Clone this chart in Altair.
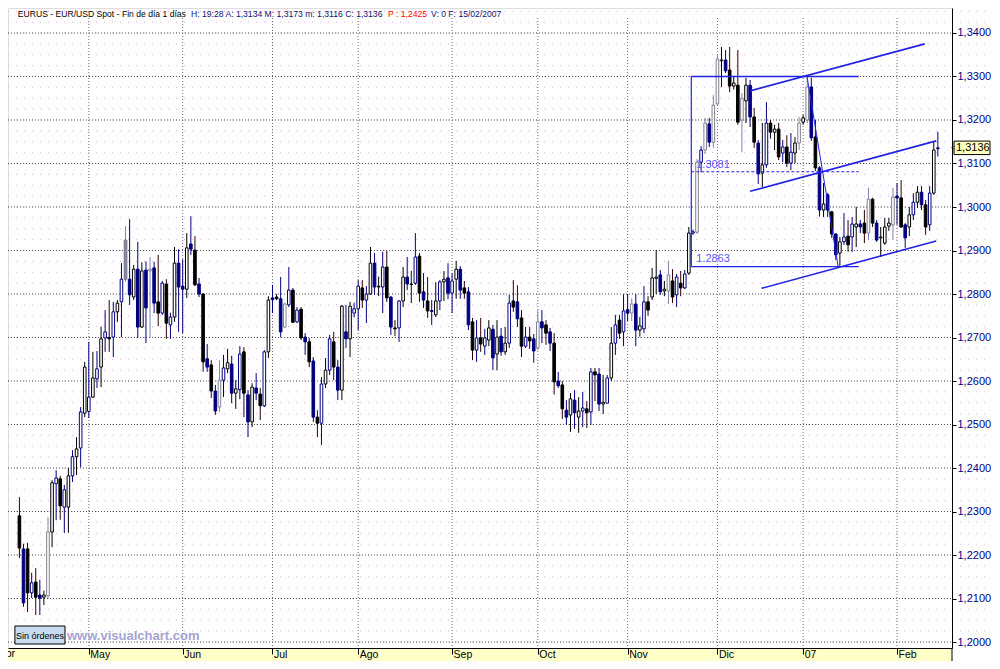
import altair as alt
import pandas as pd

# ---------------- data (bar number k = 1 .. 226, daily EUR/USD) ----------------
OPEN = [1.2290,1.2214,1.2214,1.2113,1.2138,1.2108,1.2103,1.2106,1.2253,1.2364,
        1.2375,1.2310,1.2310,1.2382,1.2426,1.2446,1.2526,1.2530,1.2563,1.2605,
        1.2632,1.2699,1.2700,1.2701,1.2759,1.2782,1.2834,1.2834,1.2793,1.2857,
        1.2724,1.2855,1.2853,1.2860,1.2782,1.2756,1.2823,1.2729,1.2747,1.2871,
        1.2818,1.2811,1.2915,1.2901,1.2823,1.2800,1.2651,1.2637,1.2577,1.2540,
        1.2602,1.2628,1.2639,1.2572,1.2580,1.2667,1.2568,1.2506,1.2584,1.2570,
        1.2543,1.2667,1.2791,1.2793,1.2789,1.2724,1.2775,1.2809,1.2736,1.2765,
        1.2701,1.2690,1.2646,1.2517,1.2503,1.2593,1.2625,1.2690,1.2632,1.2579,
        1.2713,1.2697,1.2756,1.2766,1.2814,1.2786,1.2800,1.2871,1.2816,1.2816,
        1.2862,1.2793,1.2722,1.2722,1.2784,1.2839,1.2823,1.2825,1.2887,1.2805,
        1.2784,1.2762,1.2752,1.2784,1.2828,1.2837,1.2802,1.2834,1.2857,1.2814,
        1.2805,1.2736,1.2671,1.2699,1.2680,1.2694,1.2719,1.2662,1.2703,1.2667,
        1.2687,1.2784,1.2782,1.2745,1.2680,1.2701,1.2697,1.2676,1.2736,1.2729,
        1.2713,1.2687,1.2600,1.2591,1.2533,1.2522,1.2556,1.2517,1.2531,1.2536,
        1.2529,1.2621,1.2616,1.2547,1.2549,1.2607,1.2687,1.2740,1.2713,1.2764,
        1.2756,1.2777,1.2717,1.2720,1.2782,1.2793,1.2836,1.2844,1.2807,1.2807,
        1.2830,1.2798,1.2825,1.2814,1.2848,1.2940,1.2942,1.3103,1.3131,1.3191,
        1.3149,1.3237,1.3336,1.3338,1.3315,1.3278,1.3280,1.3200,1.3244,1.3280,
        1.3207,1.3147,1.3078,1.3097,1.3193,1.3172,1.3179,1.3124,1.3138,1.3101,
        1.3124,1.3147,1.3195,1.3200,1.3276,1.3161,1.3090,1.2993,1.3028,1.2989,
        1.2938,1.2894,1.2920,1.2933,1.2931,1.2954,1.2961,1.2963,1.2940,1.3018,
        1.2963,1.2929,1.2917,1.2956,1.2959,1.3025,1.3021,1.2959,1.2954,1.2982,
        1.3011,1.3034,1.3005,1.2959,1.3032,1.3134]
HIGH = [1.2333,1.2226,1.2228,1.2159,1.2170,1.2143,1.2118,1.2287,1.2372,1.2395,
        1.2382,1.2361,1.2400,1.2441,1.2471,1.2540,1.2644,1.2690,1.2667,1.2669,
        1.2725,1.2763,1.2786,1.2782,1.2786,1.2871,1.2956,1.2972,1.2867,1.2920,
        1.2873,1.2875,1.2885,1.2874,1.2890,1.2830,1.2834,1.2757,1.2908,1.2903,
        1.2880,1.2940,1.2979,1.2933,1.2837,1.2802,1.2685,1.2648,1.2591,1.2648,
        1.2660,1.2674,1.2658,1.2602,1.2680,1.2678,1.2579,1.2595,1.2618,1.2584,
        1.2671,1.2795,1.2821,1.2800,1.2839,1.2780,1.2862,1.2814,1.2770,1.2770,
        1.2710,1.2699,1.2655,1.2533,1.2609,1.2653,1.2706,1.2713,1.2648,1.2775,
        1.2775,1.2782,1.2780,1.2832,1.2832,1.2818,1.2908,1.2894,1.2840,1.2897,
        1.2899,1.2795,1.2740,1.2786,1.2862,1.2885,1.2853,1.2940,1.2894,1.2848,
        1.2839,1.2786,1.2827,1.2832,1.2853,1.2871,1.2848,1.2876,1.2864,1.2830,
        1.2816,1.2745,1.2740,1.2745,1.2720,1.2740,1.2729,1.2740,1.2722,1.2724,
        1.2798,1.2832,1.2820,1.2763,1.2724,1.2724,1.2708,1.2763,1.2763,1.2740,
        1.2722,1.2710,1.2621,1.2600,1.2556,1.2572,1.2579,1.2563,1.2575,1.2554,
        1.2630,1.2630,1.2630,1.2614,1.2614,1.2724,1.2752,1.2752,1.2799,1.2800,
        1.2790,1.2800,1.2747,1.2818,1.2795,1.2860,1.2901,1.2855,1.2830,1.2876,
        1.2857,1.2846,1.2853,1.2855,1.2954,1.2948,1.3110,1.3140,1.3205,1.3205,
        1.3257,1.3349,1.3368,1.3361,1.3368,1.3300,1.3361,1.3262,1.3297,1.3292,
        1.3228,1.3154,1.3193,1.3241,1.3200,1.3189,1.3193,1.3154,1.3165,1.3170,
        1.3161,1.3207,1.3212,1.3303,1.3297,1.3200,1.3094,1.3055,1.3032,1.2991,
        1.2940,1.2931,1.2986,1.2970,1.2977,1.3000,1.2970,1.2993,1.3044,1.3021,
        1.2970,1.2954,1.2975,1.2975,1.3044,1.3055,1.3062,1.2963,1.3000,1.3032,
        1.3048,1.3048,1.3016,1.3048,1.3149,1.3173]
LOW = [1.2193,1.2081,1.2069,1.2101,1.2062,1.2062,1.2085,1.2101,1.2218,1.2280,
       1.2281,1.2251,1.2251,1.2368,1.2384,1.2402,1.2517,1.2515,1.2561,1.2584,
       1.2586,1.2667,1.2667,1.2655,1.2736,1.2701,1.2828,1.2775,1.2786,1.2699,
       1.2722,1.2687,1.2699,1.2756,1.2726,1.2752,1.2697,1.2697,1.2736,1.2713,
       1.2710,1.2791,1.2890,1.2818,1.2793,1.2621,1.2621,1.2561,1.2522,1.2529,
       1.2563,1.2618,1.2549,1.2536,1.2558,1.2517,1.2471,1.2494,1.2556,1.2510,
       1.2540,1.2653,1.2756,1.2786,1.2701,1.2722,1.2770,1.2733,1.2733,1.2694,
       1.2660,1.2632,1.2506,1.2471,1.2453,1.2584,1.2614,1.2602,1.2556,1.2556,
       1.2676,1.2655,1.2746,1.2717,1.2768,1.2733,1.2798,1.2798,1.2795,1.2756,
       1.2782,1.2706,1.2703,1.2690,1.2770,1.2809,1.2779,1.2821,1.2782,1.2768,
       1.2745,1.2729,1.2747,1.2763,1.2784,1.2788,1.2756,1.2789,1.2789,1.2789,
       1.2717,1.2648,1.2644,1.2667,1.2660,1.2680,1.2625,1.2625,1.2658,1.2660,
       1.2676,1.2759,1.2724,1.2655,1.2676,1.2674,1.2642,1.2671,1.2687,1.2683,
       1.2669,1.2569,1.2584,1.2513,1.2499,1.2483,1.2490,1.2481,1.2494,1.2492,
       1.2499,1.2554,1.2531,1.2524,1.2549,1.2600,1.2660,1.2697,1.2680,1.2738,
       1.2738,1.2680,1.2702,1.2710,1.2750,1.2786,1.2800,1.2798,1.2795,1.2777,
       1.2779,1.2770,1.2795,1.2811,1.2844,1.2936,1.2938,1.3080,1.3122,1.3138,
       1.3136,1.3234,1.3276,1.3308,1.3264,1.3270,1.3189,1.3126,1.3193,1.3184,
       1.3136,1.3053,1.3046,1.3090,1.3157,1.3131,1.3108,1.3103,1.3092,1.3085,
       1.3101,1.3131,1.3189,1.3193,1.3152,1.3083,1.2978,1.2977,1.2977,1.2929,
       1.2878,1.2862,1.2913,1.2897,1.2897,1.2908,1.2940,1.2917,1.2924,1.2954,
       1.2920,1.2885,1.2913,1.2945,1.2924,1.2959,1.2952,1.2906,1.2933,1.2970,
       1.2998,1.2993,1.2936,1.2945,1.3028,1.3116]
CLOSE = [1.2216,1.2090,1.2113,1.2136,1.2103,1.2101,1.2108,1.2253,1.2366,1.2377,
         1.2313,1.2350,1.2382,1.2426,1.2444,1.2529,1.2632,1.2563,1.2607,1.2628,
         1.2697,1.2713,1.2697,1.2759,1.2779,1.2834,1.2924,1.2798,1.2857,1.2724,
         1.2853,1.2768,1.2857,1.2779,1.2756,1.2825,1.2733,1.2747,1.2871,1.2816,
         1.2811,1.2906,1.2903,1.2821,1.2800,1.2644,1.2632,1.2577,1.2531,1.2602,
         1.2630,1.2642,1.2572,1.2582,1.2662,1.2572,1.2506,1.2586,1.2572,1.2543,
         1.2667,1.2786,1.2787,1.2789,1.2713,1.2777,1.2809,1.2735,1.2763,1.2699,
         1.2690,1.2644,1.2517,1.2503,1.2593,1.2625,1.2697,1.2632,1.2579,1.2772,
         1.2697,1.2772,1.2766,1.2818,1.2786,1.2800,1.2871,1.2816,1.2818,1.2862,
         1.2791,1.2724,1.2720,1.2784,1.2839,1.2823,1.2822,1.2885,1.2802,1.2786,
         1.2761,1.2760,1.2784,1.2828,1.2834,1.2802,1.2830,1.2857,1.2809,1.2802,
         1.2729,1.2671,1.2699,1.2685,1.2699,1.2722,1.2653,1.2701,1.2667,1.2687,
         1.2779,1.2770,1.2743,1.2680,1.2701,1.2692,1.2669,1.2736,1.2722,1.2710,
         1.2687,1.2598,1.2589,1.2536,1.2517,1.2559,1.2527,1.2531,1.2538,1.2527,
         1.2621,1.2614,1.2547,1.2551,1.2607,1.2687,1.2729,1.2710,1.2761,1.2756,
         1.2777,1.2717,1.2727,1.2782,1.2763,1.2837,1.2839,1.2805,1.2811,1.2844,
         1.2793,1.2839,1.2814,1.2846,1.2940,1.2943,1.3103,1.3131,1.3193,1.3149,
         1.3234,1.3340,1.3338,1.3313,1.3278,1.3285,1.3195,1.3250,1.3280,1.3207,
         1.3149,1.3076,1.3097,1.3193,1.3172,1.3179,1.3115,1.3138,1.3101,1.3126,
         1.3147,1.3193,1.3205,1.3276,1.3159,1.3090,1.2993,1.3007,1.2993,1.2938,
         1.2890,1.2920,1.2931,1.2913,1.2961,1.2961,1.2954,1.2940,1.3018,1.2963,
         1.2924,1.2931,1.2954,1.2963,1.3023,1.3021,1.2954,1.2929,1.2982,1.3011,
         1.3034,1.3005,1.2954,1.3032,1.3131,1.3136]
# candle drawing style code per bar
STYLE = list("BNBnBNwgwn" "Bnwnwnwnwn" "wnBnwnGNwN" "wNgNBnBnwN" "NwNBNBNBNg"
             "nwNwnBNwNB" "nwNBNgnBnB" "NBNBnwnBNw" "NwnnBnwNwn" "BNBnwNBnBN"
             "BNwnwNnwNB" "NBnBnwNwNw" "nBNBnBNgNB" "NBNBNwNwnB" "nBNwnwnBnN"
             "gNwnBwwNwg" "BnBnwngngN" "ggwNBwBgwN" "BNwnBwBnBn" "wgwgNBNwNB"
             "NwnBnwNBgB" "NwwwgNBNwn" "wNBnwN")

MONTH_K = [18, 41, 63, 84, 107, 128, 150, 172, 193, 216]
MONTH_LABELS = ["May", "Jun", "Jul", "Ago", "Sep", "Oct", "Nov", "Dic", "07", "Feb"]
PRICE_TICKS = [1.20, 1.21, 1.22, 1.23, 1.24, 1.25, 1.26, 1.27,
               1.28, 1.29, 1.30, 1.31, 1.32, 1.33, 1.34]

# drawing tools (box, levels, regression channel, swing line)
BOX_K = [165.6, 206.6]
BOX_TOP = 1.3300
BOX_BOTTOM = 1.2863
BOX_MID = 1.3081
LEVEL_TEXT = ["1.3081", "1.2863"]
LEVEL_TEXT_K = [166.8, 166.8]
LEVEL_TEXT_P = [1.3097, 1.2880]
CHANNEL_NAME = ["sup", "sup", "med", "med", "inf", "inf"]
CHANNEL_K = [180.0, 222.8, 180.0, 225.6, 182.8, 225.6]
CHANNEL_P = [1.3267, 1.3375, 1.3036, 1.3152, 1.2813, 1.2922]
SWING_K = [193.9, 201.6]
SWING_P = [1.3303, 1.2862]

HEADER_TEXT = ["EURUS - EUR/USD Spot - Fin de día 1 días",
               "H: 19:28 A: 1,3134 M: 1,3173 m: 1,3116 C: 1,3136",
               "P : 1,2425",
               "V: 0 F: 15/02/2007"]
HEADER_COLOR = ["#000000", "#101070", "#ff0000", "#101070"]
HEADER_X = [9.8, 183.0, 380.0, 423.0]

# ---------------- layout ----------------
W, H = 944, 640
XDOM = [-0.571, 228.24]
YDOM = [1.198621, 1.345747]
FONT = "Liberation Sans"
BLUE = "#2222e6"

FILL = {"w": "#ffffff", "n": "#ffffff", "g": "#ffffff", "G": "#8a8aa0", "B": "#000000", "N": "#000080"}
EDGE = {"w": "#000000", "n": "#000080", "g": "#808090", "G": "#707088", "B": "#000000", "N": "#000080"}
WICK = {"w": "#000000", "n": "#000080", "g": "#8080b0", "G": "#8080b0", "B": "#300000", "N": "#000080"}

bars = pd.DataFrame({"k": list(range(1, len(OPEN) + 1)), "o": OPEN, "h": HIGH,
                     "l": LOW, "c": CLOSE, "s": STYLE[:len(OPEN)]})
bars["top"] = bars[["o", "c"]].max(axis=1)
bars["bot"] = bars[["o", "c"]].min(axis=1)
bars["fill"] = bars["s"].map(FILL)
bars["edge"] = bars["s"].map(EDGE)
bars["wick"] = bars["s"].map(WICK)

xs = alt.Scale(domain=XDOM, nice=False, zero=False)
ys = alt.Scale(domain=YDOM, nice=False, zero=False)

label_expr = "[" + ",".join("'%s'" % m for m in MONTH_LABELS) + "][indexof([" + \
    ",".join(str(k) for k in MONTH_K) + "], datum.value)]"

XA = alt.Axis(values=MONTH_K, labelExpr=label_expr, title=None, grid=False,
              orient="bottom", tickSize=6, tickColor="#000000", domainColor="#000000",
              labelAlign="left", labelBaseline="top", labelPadding=-5, labelOffset=1,
              labelFontSize=10.5, labelFont=FONT, labelColor="#000000",
              labelFlush=False, labelOverlap=False, zindex=2)
YA = alt.Axis(values=PRICE_TICKS, title=None, grid=False, orient="right",
              labelExpr="replace(format(datum.value, '.4f'), '.', ',')",
              tickSize=4, tickColor="#000000", domainColor="#000000",
              labelPadding=1, labelFontSize=11, labelFont=FONT, labelColor="#000080",
              labelOverlap=False, labelFlush=False, zindex=2)


def X(f):
    return alt.X(f, scale=xs, axis=XA)


def Y(f):
    return alt.Y(f, scale=ys, axis=YA)


# background pink dot rows
dots = pd.DataFrame({"p": [1.2000 + 0.0025 * i for i in range(59)]})
dot_layer = alt.Chart(dots).mark_rule(color="#f2a2f2", strokeDash=[1, 7], strokeWidth=1).encode(
    y=Y("p:Q"), x=alt.value(0), x2=alt.value(W + 40))

hgrid = alt.Chart(pd.DataFrame({"p": PRICE_TICKS})).mark_rule(
    color="#505050", strokeDash=[1, 2], strokeWidth=1).encode(
    y=Y("p:Q"), x=alt.value(0), x2=alt.value(W))

vgrid = alt.Chart(pd.DataFrame({"k": MONTH_K})).mark_rule(
    color="#707070", strokeDash=[1, 2], strokeWidth=1).encode(
    x=X("k:Q"), y=alt.value(10), y2=alt.value(H))

wicks = alt.Chart(bars).mark_rule(strokeWidth=1).encode(
    x=X("k:Q"), y=Y("l:Q"), y2="h:Q",
    color=alt.Color("wick:N", scale=None))

bodies = alt.Chart(bars).mark_bar(width=2.6, strokeWidth=1).encode(
    x=X("k:Q"), y=Y("bot:Q"), y2="top:Q",
    fill=alt.Fill("fill:N", scale=None),
    stroke=alt.Stroke("edge:N", scale=None))

box_h = alt.Chart(pd.DataFrame({"k1": [BOX_K[0]] * 2, "k2": [BOX_K[1]] * 2,
                                "p": [BOX_TOP, BOX_BOTTOM]})).mark_rule(
    color=BLUE, strokeWidth=1.4).encode(x=X("k1:Q"), x2="k2:Q", y=Y("p:Q"))
box_v = alt.Chart(pd.DataFrame({"k": [BOX_K[0]], "p1": [BOX_BOTTOM], "p2": [BOX_TOP]})).mark_rule(
    color=BLUE, strokeWidth=1.2).encode(x=X("k:Q"), y=Y("p1:Q"), y2="p2:Q")
box_mid = alt.Chart(pd.DataFrame({"k1": [BOX_K[0]], "k2": [BOX_K[1]], "p": [BOX_MID]})).mark_rule(
    color=BLUE, strokeWidth=1.2, strokeDash=[3, 2]).encode(x=X("k1:Q"), x2="k2:Q", y=Y("p:Q"))

chan = alt.Chart(pd.DataFrame({"n": CHANNEL_NAME, "k": CHANNEL_K, "p": CHANNEL_P})).mark_line(
    color=BLUE, strokeWidth=1.6).encode(x=X("k:Q"), y=Y("p:Q"), detail="n:N")
swing = alt.Chart(pd.DataFrame({"k": SWING_K, "p": SWING_P})).mark_line(
    color=BLUE, strokeWidth=1).encode(x=X("k:Q"), y=Y("p:Q"))

lvl_text = alt.Chart(pd.DataFrame({"t": LEVEL_TEXT, "k": LEVEL_TEXT_K, "p": LEVEL_TEXT_P})).mark_text(
    align="left", baseline="middle", font=FONT, fontSize=11, color="#5a5aff").encode(
    x=X("k:Q"), y=Y("p:Q"), text="t:N")

# header line
header = alt.Chart(pd.DataFrame({"t": HEADER_TEXT, "c": HEADER_COLOR, "x": HEADER_X})).mark_text(
    align="left", baseline="middle", font=FONT, fontSize=8.6).encode(
    x=alt.X("x:Q", scale=None), y=alt.value(5.5), text="t:N", color=alt.Color("c:N", scale=None))

# bottom strip
strip = alt.Chart(pd.DataFrame({"a": [0]})).mark_rect(fill="#ffffc8").encode(
    x=alt.value(0), x2=alt.value(W), y=alt.value(H), y2=alt.value(H + 13))
right_ext = alt.Chart(pd.DataFrame({"a": [0]})).mark_rule(color="#000000").encode(
    x=alt.value(W), y=alt.value(H), y2=alt.value(H + 13))
abr = alt.Chart(pd.DataFrame({"t": ["Abr"]})).mark_text(
    align="right", baseline="top", font=FONT, fontSize=10.5, color="#000000").encode(
    x=alt.value(7), y=alt.value(H + 1), text="t:N")

# "Sin órdenes" button and watermark
btn = alt.Chart(pd.DataFrame({"a": [0]})).mark_rect(fill="#c8dcf0", stroke="#000000", strokeWidth=1).encode(
    x=alt.value(6.9), x2=alt.value(57), y=alt.value(618), y2=alt.value(636))
btn_text = alt.Chart(pd.DataFrame({"t": ["Sin órdenes"]})).mark_text(
    align="center", baseline="middle", font=FONT, fontSize=9,
    color="#000000").encode(x=alt.value(32), y=alt.value(627.5), text="t:N")
wm = alt.Chart(pd.DataFrame({"t": ["www.visualchart.com"]})).mark_text(
    align="left", baseline="middle", font=FONT, fontSize=13, fontWeight="bold",
    color="#a4a4d2").encode(x=alt.value(59), y=alt.value(628), text="t:N")

# last price tag on the right axis
last = pd.DataFrame({"p": [CLOSE[-1]]})
tag = alt.Chart(last).transform_calculate(
    lo="datum.p - 0.00155", hi="datum.p + 0.00155").mark_rect(
    fill="#ffffc0", stroke="#000000", strokeWidth=1).encode(
    x=alt.value(W + 2), x2=alt.value(W + 38), y=Y("lo:Q"), y2="hi:Q")
tag_text = alt.Chart(last).transform_calculate(
    t="replace(format(datum.p, '.4f'), '.', ',')").mark_text(
    align="left", baseline="middle", font=FONT, fontSize=11, color="#000000").encode(
    x=alt.value(W + 4), y=Y("p:Q"), text="t:N")
tag_arrow = alt.Chart(last).mark_text(
    align="left", baseline="middle", font=FONT, fontSize=8, color="#303030").encode(
    x=alt.value(W - 1), y=Y("p:Q"), text=alt.value("<"))

chart = alt.layer(
    dot_layer, hgrid, vgrid, wicks, bodies, box_h, box_v, box_mid, chan, swing, lvl_text,
    header, strip, right_ext, abr, btn, btn_text, wm, tag, tag_text, tag_arrow
).properties(
    width=W, height=H,
    autosize=alt.AutoSizeParams(type="none"),
    padding={"left": 0, "top": 0, "right": 40, "bottom": 13},
    background="#ffffff",
).configure_view(stroke=None).configure(font=FONT)

chart.save("out.html", embed_options={"renderer": "svg", "actions": False})
